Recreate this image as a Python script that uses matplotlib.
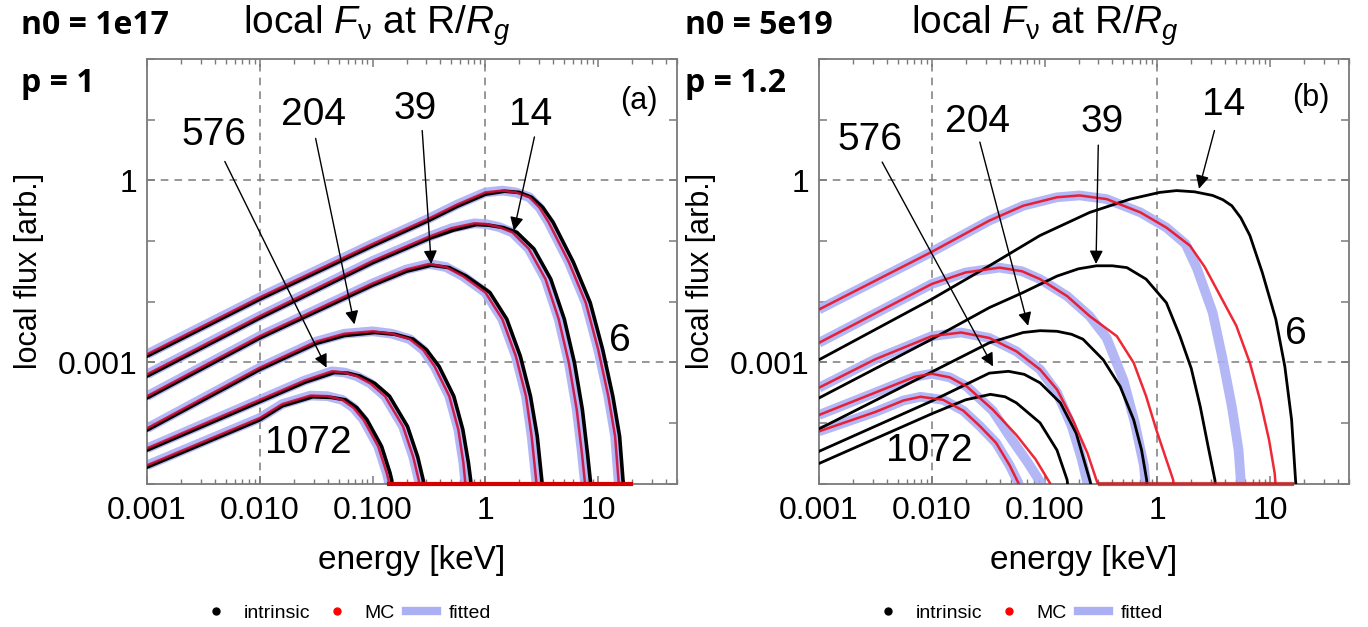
import numpy as np
import matplotlib
matplotlib.use("Agg")
import matplotlib.pyplot as plt
from matplotlib.lines import Line2D
from matplotlib.ticker import FixedLocator, FixedFormatter, NullLocator

plt.rcParams['font.family'] = ['Liberation Sans', 'DejaVu Sans']
plt.rcParams['mathtext.fontset'] = 'custom'
plt.rcParams['mathtext.rm'] = 'Liberation Sans'
plt.rcParams['mathtext.it'] = 'Liberation Sans:italic'

# ---------------- data (log10 E [keV], log10 local flux) ----------------
# panel (a): n0 = 1e17, p = 1   (MC == fitted)
a6_mc_lE = [-3, -2, -1, -0.5, -0.25, 0.0, 0.15, 0.27, 0.39, 0.48, 0.56, 0.74, 0.89, 1.00, 1.09, 1.15, 1.18, 1.20]
a6_mc_lF = [-2.87, -1.93, -1.05, -0.63, -0.40, -0.20, -0.17, -0.20, -0.28, -0.45, -0.69, -1.35, -2.02, -2.79, -3.56, -4.22, -4.94, -5.3]
a6_in_lE = [-3, -2, -1, -0.5, -0.25, 0.0, 0.17, 0.30, 0.41, 0.51, 0.60, 0.78, 0.93, 1.04, 1.13, 1.19, 1.22, 1.24]
a6_in_lF = [-2.90, -1.96, -1.08, -0.66, -0.43, -0.23, -0.18, -0.20, -0.28, -0.45, -0.69, -1.35, -2.02, -2.79, -3.56, -4.22, -4.94, -5.3]

a14_mc_lE = [-3, -2, -1, -0.5, -0.3, -0.1, 0.0, 0.12, 0.24, 0.385, 0.533, 0.65, 0.74, 0.81, 0.856, 0.88, 0.90]
a14_mc_lF = [-3.20, -2.24, -1.33, -0.93, -0.79, -0.71, -0.72, -0.77, -0.86, -1.13, -1.63, -2.29, -3.01, -3.78, -4.50, -4.94, -5.3]
a14_in_lE = [-3, -2, -1, -0.5, -0.28, -0.08, 0.03, 0.16, 0.28, 0.43, 0.58, 0.70, 0.79, 0.86, 0.905, 0.93, 0.95]
a14_in_lF = [-3.23, -2.27, -1.36, -0.96, -0.82, -0.73, -0.74, -0.78, -0.86, -1.13, -1.63, -2.29, -3.01, -3.78, -4.50, -4.94, -5.3]

a39_mc_lE = [-3, -2, -1, -0.7, -0.5, -0.35, -0.2, 0.0, 0.15, 0.27, 0.36, 0.41, 0.45, 0.47]
a39_mc_lF = [-3.56, -2.57, -1.70, -1.47, -1.38, -1.43, -1.58, -1.85, -2.29, -2.90, -3.56, -4.22, -4.94, -5.3]
a39_in_lE = [-3, -2, -1, -0.7, -0.48, -0.32, -0.17, 0.04, 0.19, 0.31, 0.40, 0.46, 0.50, 0.52]
a39_in_lF = [-3.59, -2.60, -1.73, -1.50, -1.40, -1.44, -1.58, -1.85, -2.29, -2.90, -3.56, -4.22, -4.94, -5.3]

a204_mc_lE = [-3, -2, -1.5, -1.25, -1.0, -0.83, -0.67, -0.55, -0.45, -0.32, -0.24, -0.195, -0.18, -0.17]
a204_mc_lF = [-4.09, -3.09, -2.66, -2.53, -2.49, -2.53, -2.62, -2.80, -3.07, -3.56, -4.11, -4.66, -4.95, -5.3]
a204_in_lE = [-3, -2, -1.5, -1.25, -0.98, -0.80, -0.64, -0.52, -0.41, -0.28, -0.20, -0.15, -0.13, -0.12]
a204_in_lF = [-4.12, -3.12, -2.69, -2.56, -2.51, -2.54, -2.62, -2.80, -3.07, -3.56, -4.11, -4.66, -4.95, -5.3]

a576_mc_lE = [-3, -2, -1.6, -1.36, -1.25, -1.14, -1.02, -0.89, -0.73, -0.64, -0.59, -0.58]
a576_mc_lF = [-4.42, -3.62, -3.30, -3.15, -3.17, -3.23, -3.35, -3.56, -4.06, -4.56, -4.95, -5.3]
a576_in_lE = [-3, -2, -1.6, -1.34, -1.22, -1.11, -0.98, -0.85, -0.69, -0.60, -0.55, -0.54]
a576_in_lF = [-4.45, -3.65, -3.33, -3.17, -3.18, -3.23, -3.35, -3.56, -4.06, -4.56, -4.95, -5.3]

a1072_mc_lE = [-3, -2, -1.8, -1.55, -1.4, -1.27, -1.17, -1.08, -0.95, -0.874, -0.858, -0.85]
a1072_mc_lF = [-4.70, -3.92, -3.69, -3.55, -3.56, -3.62, -3.75, -3.95, -4.39, -4.83, -4.95, -5.3]
a1072_in_lE = [-3, -2, -1.8, -1.53, -1.37, -1.24, -1.14, -1.05, -0.92, -0.845, -0.83, -0.82]
a1072_in_lF = [-4.73, -3.95, -3.72, -3.57, -3.58, -3.62, -3.75, -3.95, -4.39, -4.83, -4.95, -5.3]

a_mc_floor_E = [0.14, 19.5]       # MC bins with zero flux, drawn on the bottom axis

# panel (b): n0 = 5e19, p = 1.2
b6_mc_lE = [-3, -2, -1.49, -1.19, -0.89, -0.69, -0.45, -0.15, 0.08, 0.29, 0.42, 0.55, 0.70, 0.82, 0.91, 0.99, 1.04, 1.06]
b6_mc_lF = [-2.13, -1.18, -0.665, -0.42, -0.28, -0.25, -0.31, -0.53, -0.78, -1.08, -1.43, -1.88, -2.40, -3.01, -3.62, -4.28, -4.83, -5.3]
b6_fit_lE = [-3, -2, -1.49, -1.19, -0.89, -0.69, -0.45, -0.15, 0.08, 0.25, 0.35, 0.49, 0.58, 0.66, 0.72, 0.74, 0.75]
b6_fit_lF = [-2.13, -1.18, -0.665, -0.42, -0.28, -0.25, -0.31, -0.53, -0.78, -1.05, -1.45, -2.18, -2.96, -3.73, -4.45, -4.97, -5.3]
b6_in_lE = [-3, -2, -1.49, -1.04, -0.6, -0.24, 0.02, 0.17, 0.33, 0.49, 0.58, 0.66, 0.74, 0.82, 0.93, 1.05, 1.13, 1.19, 1.225, 1.24]
b6_in_lF = [-2.96, -1.96, -1.41, -0.91, -0.53, -0.31, -0.20, -0.17, -0.19, -0.25, -0.32, -0.42, -0.62, -0.91, -1.52, -2.29, -3.07, -3.95, -4.94, -5.3]

b39_mc_lE = [-3, -2, -1.7, -1.4, -1.2, -1.04, -0.8, -0.6, -0.36, -0.21, -0.1, -0.01, 0.08, 0.14, 0.16]
b39_mc_lF = [-2.68, -1.71, -1.52, -1.44, -1.50, -1.63, -1.91, -2.24, -2.57, -3.01, -3.56, -4.11, -4.61, -4.94, -5.3]
b39_fit_lE = [-3, -2, -1.7, -1.4, -1.2, -1.04, -0.8, -0.6, -0.45, -0.3, -0.2, -0.12, -0.09]
b39_fit_lF = [-2.68, -1.71, -1.52, -1.44, -1.50, -1.63, -1.91, -2.24, -2.6, -3.3, -4.0, -4.7, -5.3]
b39_in_lE = [-3, -2, -1.49, -1.19, -0.89, -0.70, -0.54, -0.40, -0.27, -0.1, 0.08, 0.2, 0.3, 0.38, 0.45, 0.51, 0.53]
b39_in_lF = [-3.59, -2.62, -2.10, -1.85, -1.58, -1.46, -1.41, -1.41, -1.44, -1.63, -2.02, -2.57, -3.1, -3.73, -4.39, -4.94, -5.3]

b204_mc_lE = [-3, -2.5, -2, -1.74, -1.49, -1.25, -1.04, -0.89, -0.75, -0.62, -0.53, -0.51]
b204_mc_lF = [-3.42, -2.95, -2.57, -2.51, -2.60, -2.82, -3.12, -3.45, -3.95, -4.5, -5.0, -5.3]
b204_fit_lE = [-3, -2.5, -2, -1.74, -1.49, -1.25, -1.04, -0.89, -0.76, -0.67, -0.62, -0.61]
b204_fit_lF = [-3.42, -2.95, -2.57, -2.51, -2.60, -2.82, -3.12, -3.5, -4.05, -4.6, -5.0, -5.3]
b204_in_lE = [-3, -2, -1.49, -1.19, -1.04, -0.89, -0.76, -0.66, -0.48, -0.33, -0.21, -0.14, -0.095, -0.08]
b204_in_lF = [-4.10, -3.16, -2.68, -2.51, -2.48, -2.49, -2.54, -2.62, -2.96, -3.40, -3.95, -4.45, -4.94, -5.3]

b576_mc_lE = [-3, -2.5, -2.15, -2.0, -1.84, -1.69, -1.46, -1.25, -1.08, -0.95, -0.93]
b576_mc_lF = [-3.87, -3.5, -3.24, -3.19, -3.25, -3.40, -3.78, -4.2, -4.6, -5.0, -5.3]
b576_fit_lE = [-3, -2.5, -2.15, -2.0, -1.84, -1.69, -1.46, -1.3, -1.15, -1.03, -1.0]
b576_fit_lF = [-3.87, -3.5, -3.24, -3.19, -3.25, -3.40, -3.8, -4.25, -4.65, -5.0, -5.3]
b576_in_lE = [-3, -2, -1.49, -1.32, -1.18, -1.04, -0.86, -0.72, -0.6, -0.55]
b576_in_lF = [-4.47, -3.64, -3.18, -3.15, -3.20, -3.34, -3.67, -4.17, -4.94, -5.3]

b1072_mc_lE = [-3, -2.5, -2.25, -2.1, -1.9, -1.72, -1.57, -1.43, -1.31, -1.23, -1.21]
b1072_mc_lF = [-4.14, -3.82, -3.63, -3.57, -3.62, -3.80, -4.06, -4.33, -4.7, -5.0, -5.3]
b1072_in_lE = [-3, -2, -1.7, -1.48, -1.35, -1.25, -1.04, -0.89, -0.8, -0.78]
b1072_in_lF = [-4.67, -3.85, -3.62, -3.53, -3.57, -3.67, -4.00, -4.45, -4.94, -5.3]

b_mc_floor_E = [0.31, 15.5]

# labels: text (log E, log F) and arrow (start -> tip)
a_labels = ['576', '204', '39', '14']
a_label_xy = [(-2.406, 0.74), (-1.52, 1.07), (-0.62, 1.18), (0.40, 1.07)]
a_arrow_from = [(-2.31, 0.31), (-1.505, 0.69), (-0.56, 0.82), (0.435, 0.715)]
a_arrow_to = [(-1.408, -3.09), (-1.161, -2.376), (-0.48, -1.38), (0.253, -0.83)]
b_labels = ['576', '204', '39', '14']
b_label_xy = [(-2.546, 0.66), (-1.594, 0.96), (-0.485, 0.96), (0.583, 1.24)]
b_arrow_from = [(-2.44, 0.30), (-1.574, 0.63), (-0.524, 0.58), (0.506, 0.82)]
b_arrow_to = [(-1.457, -3.07), (-1.146, -2.40), (-0.544, -1.38), (0.369, -0.14)]

x_tick_vals = [1e-3, 1e-2, 1e-1, 1, 10]
x_tick_labels = ['0.001', '0.010', '0.100', '1', '10']
y_tick_vals = [1e-5, 1e-4, 1e-3, 1e-2, 1e-1, 1, 10, 100]
y_tick_labels = ['', '', '0.001', '', '', '1', '', '']
x_grid = [1e-2, 1, 100]
y_grid = [1e-3, 1]

# ---------------- styling ----------------
W, H = 1368, 627
fig = plt.figure(figsize=(W / 100, H / 100), dpi=100)
GRAY = '#7a7a7a'
BLUE = '#abb0f4'

def px_axes(x0, x1, y0, y1):
    return fig.add_axes([x0 / W, 1 - y1 / H, (x1 - x0) / W, (y1 - y0) / H])

axA = px_axes(147, 677, 59, 483.5)
axB = px_axes(819, 1349, 59, 483.5)

def L(v):
    return 10 ** np.asarray(v, dtype=float)

def style(ax):
    ax.set_xscale('log')
    ax.set_yscale('log')
    ax.set_xlim(1e-3, 50)
    ax.set_ylim(1e-5, 1e2)
    for s in ax.spines.values():
        s.set_color(GRAY)
        s.set_linewidth(1.3)
    ax.xaxis.set_major_locator(FixedLocator(x_tick_vals + [100]))
    ax.xaxis.set_major_formatter(FixedFormatter(x_tick_labels + ['']))
    ax.xaxis.set_minor_locator(FixedLocator(
        [m * 10.0 ** e for e in range(-3, 2) for m in range(2, 10)]))
    ax.yaxis.set_major_locator(FixedLocator(y_tick_vals))
    ax.yaxis.set_major_formatter(FixedFormatter(y_tick_labels))
    ax.yaxis.set_minor_locator(NullLocator())
    ax.tick_params(which='both', direction='in', top=True, right=True,
                   color=GRAY, labelsize=23)
    ax.tick_params(which='major', length=6, width=1.1)
    ax.tick_params(which='minor', length=3.5, width=1.0)
    ax.tick_params(axis='x', pad=9)
    ax.tick_params(axis='y', pad=7)
    for g in x_grid:
        ax.axvline(g, color=GRAY, lw=1.1, ls=(0, (5, 4)), zorder=0.5)
    for g in y_grid:
        ax.axhline(g, color=GRAY, lw=1.1, ls=(0, (5, 4)), zorder=0.5)
    ax.set_xlabel('energy [keV]', fontsize=24, labelpad=14)
    ax.set_ylabel('local flux [arb.]', fontsize=22, labelpad=10)

style(axA)
style(axB)

a_curves = [
    (a6_mc_lE, a6_mc_lF, a6_mc_lE, a6_mc_lF, a6_in_lE, a6_in_lF),
    (a14_mc_lE, a14_mc_lF, a14_mc_lE, a14_mc_lF, a14_in_lE, a14_in_lF),
    (a39_mc_lE, a39_mc_lF, a39_mc_lE, a39_mc_lF, a39_in_lE, a39_in_lF),
    (a204_mc_lE, a204_mc_lF, a204_mc_lE, a204_mc_lF, a204_in_lE, a204_in_lF),
    (a576_mc_lE, a576_mc_lF, a576_mc_lE, a576_mc_lF, a576_in_lE, a576_in_lF),
    (a1072_mc_lE, a1072_mc_lF, a1072_mc_lE, a1072_mc_lF, a1072_in_lE, a1072_in_lF),
]
b_curves = [
    (b6_mc_lE, b6_mc_lF, b6_fit_lE, b6_fit_lF, b6_in_lE, b6_in_lF),
    (b39_mc_lE, b39_mc_lF, b39_fit_lE, b39_fit_lF, b39_in_lE, b39_in_lF),
    (b204_mc_lE, b204_mc_lF, b204_fit_lE, b204_fit_lF, b204_in_lE, b204_in_lF),
    (b576_mc_lE, b576_mc_lF, b576_fit_lE, b576_fit_lF, b576_in_lE, b576_in_lF),
    (b1072_mc_lE, b1072_mc_lF, b1072_mc_lE, b1072_mc_lF, b1072_in_lE, b1072_in_lF),
]

def draw_curves(ax, curves, black_lw, red_color):
    for mE, mF, fE, fF, iE, iF in curves:
        ax.plot(L(fE), L(fF), color=BLUE, lw=7, alpha=0.9, solid_capstyle='butt',
                solid_joinstyle='round', zorder=2)
    for mE, mF, fE, fF, iE, iF in curves:
        ax.plot(L(iE), L(iF), color='black', lw=black_lw, solid_joinstyle='round', zorder=3)
    for mE, mF, fE, fF, iE, iF in curves:
        ax.plot(L(mE), L(mF), color=red_color, lw=1.8, alpha=0.9,
                solid_joinstyle='round', zorder=4)

draw_curves(axA, a_curves, 2.6, '#d0103c')
draw_curves(axB, b_curves, 2.0, '#ee1020')

axA.plot(a_mc_floor_E, [1e-5, 1e-5], color='#d40000', lw=3, clip_on=False, zorder=5)
axB.plot(b_mc_floor_E, [1e-5, 1e-5], color='#c02020', lw=3, alpha=0.8, clip_on=False, zorder=5)

def annotate(ax, labels, txy, afrom, ato):
    for lab, t, f, to in zip(labels, txy, afrom, ato):
        ax.text(10 ** t[0], 10 ** t[1], lab, fontsize=28, ha='center', va='center', zorder=6)
        ax.annotate('', xy=(10 ** to[0], 10 ** to[1]), xytext=(10 ** f[0], 10 ** f[1]),
                    arrowprops=dict(arrowstyle='-|>', color='black', lw=1.0,
                                    mutation_scale=20, shrinkA=0, shrinkB=0), zorder=6)

annotate(axA, a_labels, a_label_xy, a_arrow_from, a_arrow_to)
annotate(axB, b_labels, b_label_xy, b_arrow_from, b_arrow_to)

axA.text(10 ** 1.19, 10 ** -2.65, '6', fontsize=28, ha='center', va='center')
axA.text(10 ** -1.567, 10 ** -4.33, '1072', fontsize=28, ha='center', va='center')
axB.text(10 ** 1.225, 10 ** -2.54, '6', fontsize=28, ha='center', va='center')
axB.text(10 ** -2.02, 10 ** -4.47, '1072', fontsize=28, ha='center', va='center')
axA.text(10 ** 1.36, 10 ** 1.30, '(a)', fontsize=22, ha='center', va='center')
axB.text(10 ** 1.36, 10 ** 1.36, '(b)', fontsize=22, ha='center', va='center')

# titles
def ftext(x, y, s, **kw):
    fig.text(x / W, 1 - y / H, s, va='baseline', ha='left', **kw)

BOLD = dict(fontsize=23, fontweight='bold', family=['Open Sans', 'DejaVu Sans'])
ftext(21, 34, 'n0 = 1e17', **BOLD)
ftext(21, 92, 'p = 1', **BOLD)
ftext(243, 34, r'local $F_{\mathrm{\nu}}$ at R/$R_g$', fontsize=28)
ftext(685, 34, 'n0 = 5e19', **BOLD)
ftext(685, 92, 'p = 1.2', **BOLD)
ftext(911, 34, r'local $F_{\mathrm{\nu}}$ at R/$R_g$', fontsize=28)

# legends
handles = [Line2D([], [], marker='o', color='black', ls='none', ms=5),
           Line2D([], [], marker='o', color='red', ls='none', ms=5),
           Line2D([], [], color=BLUE, lw=6)]
names = ['intrinsic', 'MC', 'fitted']
for cx in (346, 1018):
    fig.legend(handles, names, loc='center', bbox_to_anchor=(cx / W, 1 - 613 / H),
               ncol=3, frameon=False, fontsize=14, handlelength=1.6,
               handletextpad=0.6, columnspacing=0.6)

fig.savefig('out.png', dpi=100)
